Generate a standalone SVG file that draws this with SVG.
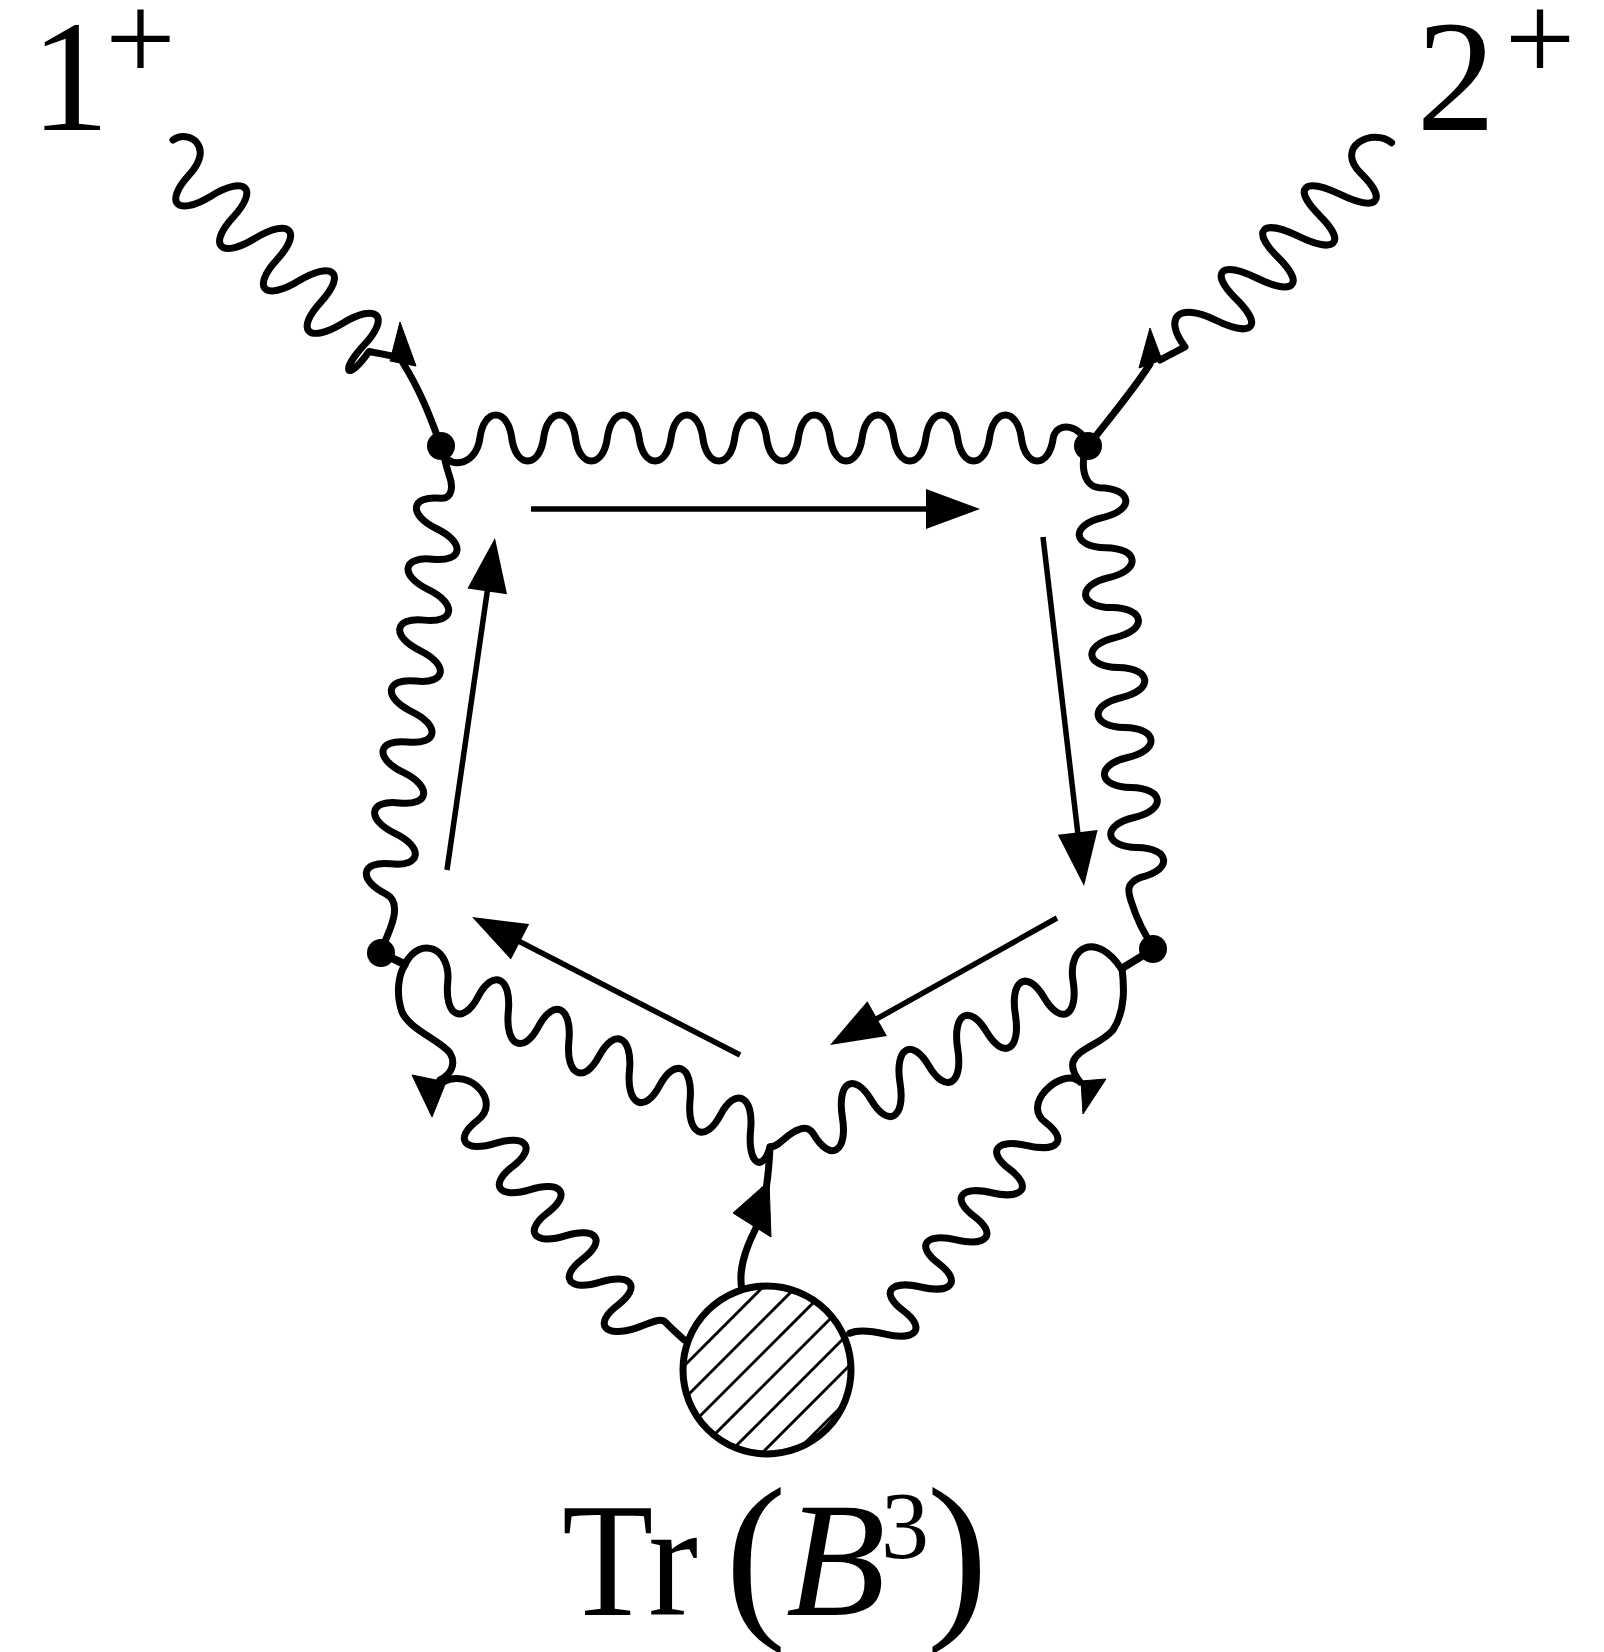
<svg xmlns="http://www.w3.org/2000/svg" width="1604" height="1652" viewBox="0 0 1604 1652">
<defs>
<style>
.g{fill:none;stroke:#000;stroke-width:7;stroke-linecap:round;stroke-linejoin:round}
.a{fill:none;stroke:#000;stroke-width:5.5;marker-end:url(#ah)}
.h{fill:#000;stroke:#000;stroke-width:1;stroke-linejoin:round}
.dot{fill:#000}
.hatch{stroke:#000;stroke-width:3}
text{font-family:"Liberation Serif","Times New Roman",serif;fill:#000}
</style>
<marker id="ah" markerUnits="userSpaceOnUse" viewBox="-40 -25 70 50" markerWidth="70" markerHeight="50" refX="0" refY="0" orient="auto" overflow="visible">
<path d="M20,0 L-34,-20 L-34,20 Z" fill="#000"/>
</marker>
<clipPath id="bc"><circle cx="767" cy="1370" r="84"/></clipPath>
</defs>
<rect width="1604" height="1652" fill="#fff"/>
<g id="connectors">
<path id="g1" class="g" transform="translate(163.6,149.7) rotate(44.1)" d="M0,-13.5 C3,-32 34.9,-38.7 35.9,0 c1,38.7 20.5,38.7 30.5,0 c10,-38.7 29.5,-38.7 30.5,0 c1,38.7 20.5,38.7 30.5,0 c10,-38.7 29.5,-38.7 30.5,0 c1,38.7 20.5,38.7 30.5,0 c10,-38.7 29.5,-38.7 30.5,0 c1,38.7 20.5,38.7 30.5,0 c10,-38.7 29.5,-38.7 30.5,0 c1,38.7 14,38.7 8.1,2 L311.7,-13.6"/>
<path id="g2" class="g" transform="translate(1391.6,142.7) rotate(134.76)" d="M0,0 C2,24 43.4,38.7 43.4,0 c0,-38.7 16.5,-38.7 29.5,0 c13,38.7 29.5,38.7 29.5,0 c0,-38.7 16.5,-38.7 29.5,0 c13,38.7 29.5,38.7 29.5,0 c0,-38.7 16.5,-38.7 29.5,0 c13,38.7 29.5,38.7 29.5,0 c0,-38.7 16.5,-38.7 29.5,0 c13,38.7 35,40 40.6,3 L317.3,11.4"/>
<path id="top" class="g" d="M441,446 C443,470 475.9,468.7 479.9,438 c4,-30.7 27.85,-30.7 31.85,0 s27.85,30.7 31.85,0 s27.85,-30.7 31.85,0 s27.85,30.7 31.85,0 s27.85,-30.7 31.85,0 s27.85,30.7 31.85,0 s27.85,-30.7 31.85,0 s27.85,30.7 31.85,0 s27.85,-30.7 31.85,0 s27.85,30.7 31.85,0 s27.85,-30.7 31.85,0 s27.85,30.7 31.85,0 s27.85,-30.7 31.85,0 s27.85,30.7 31.85,0 s27.85,-30.7 31.85,0 s27.85,30.7 31.85,0 s27.85,-30.7 31.85,0 s27.85,30.7 31.85,0 C1057,420 1082,425 1088,446"/>
<path id="leftwall" class="g" transform="translate(379,950) rotate(-82.2)" d="M0,2 C20,8 49.5,18 56.2,0 c10,-30.7 29.75,-30.7 30.75,0 c1,30.7 20.75,30.7 30.75,0 c10,-30.7 29.75,-30.7 30.75,0 c1,30.7 20.75,30.7 30.75,0 c10,-30.7 29.75,-30.7 30.75,0 c1,30.7 20.75,30.7 30.75,0 c10,-30.7 29.75,-30.7 30.75,0 c1,30.7 20.75,30.7 30.75,0 c10,-30.7 29.75,-30.7 30.75,0 c1,30.7 20.75,30.7 30.75,0 c10,-30.7 29.75,-30.7 30.75,0 c1,30.7 20.75,30.7 30.75,0 c10,-30.7 29.75,-30.7 30.75,0 C457,12 470,10 478,6 C490,0 500,-3 508,-7"/>
<path id="rightwall" class="g" transform="translate(1095,446) rotate(84)" d="M-0.7,7 C10,16 39,18 41.9,0 c4,-33.3 26.15,-33.3 30.15,0 s26.15,33.3 30.15,0 s26.15,-33.3 30.15,0 s26.15,33.3 30.15,0 s26.15,-33.3 30.15,0 s26.15,33.3 30.15,0 s26.15,-33.3 30.15,0 s26.15,33.3 30.15,0 s26.15,-33.3 30.15,0 s26.15,33.3 30.15,0 s26.15,-33.3 30.15,0 s26.15,33.3 30.15,0 s26.15,-33.3 30.15,0 C438,14 445,14 455,12 C475,8 495,0 506.5,-7"/>
<path id="lowerleft" class="g" transform="translate(408,962.7) rotate(26)" d="M-28.5,3 L-2,2 C-1,-30 32.2,-32.4 44.2,0 c12,32.4 32.7,32.4 33.7,0 c1,-32.4 21.7,-32.4 33.7,0 c12,32.4 32.7,32.4 33.7,0 c1,-32.4 21.7,-32.4 33.7,0 c12,32.4 32.7,32.4 33.7,0 c1,-32.4 21.7,-32.4 33.7,0 c12,32.4 32.7,32.4 33.7,0 c1,-32.4 21.7,-32.4 33.7,0 c12,32.4 32.7,32.4 33.7,0 c1,-32.4 21.7,-32.4 33.7,0 c12,32.4 30,34 25,6.9"/>
<path id="lowerright" class="g" transform="translate(1145,938.1) rotate(149.4)" d="M0,-14 L36,-14.5 C38,30 70.6,33.3 83.6,0 c13,-33.3 33.5,-33.3 33.5,0 c0,33.3 20.5,33.3 33.5,0 c13,-33.3 33.5,-33.3 33.5,0 c0,33.3 20.5,33.3 33.5,0 c13,-33.3 33.5,-33.3 33.5,0 c0,33.3 20.5,33.3 33.5,0 c13,-33.3 33.5,-33.3 33.5,0 c0,33.3 20.5,33.3 33.5,0 c13,-33.3 33.5,-33.3 33.5,0 C385.1,10 392,12 402,12 C414,12 421,7 429,11"/>
<path id="lb" class="g" transform="translate(446.7,1079.2) rotate(52.9)" d="M0,4.6 C4,-25 51.4,-30.7 51.4,0 c0,30.7 18,30.7 29,0 c11,-30.7 29,-30.7 29,0 c0,30.7 18,30.7 29,0 c11,-30.7 29,-30.7 29,0 c0,30.7 18,30.7 29,0 c11,-30.7 29,-30.7 29,0 c0,30.7 18,30.7 29,0 c11,-30.7 29,-30.7 29,0 c0,30.7 18,30.7 29,0 C317.4,-14 318,-27 326,-28 C336,-29 344,-31 351,-32"/>
<path id="rb" class="g" transform="translate(1076.8,1079.8) rotate(126.97)" d="M0,0 C3,20 52.85,29.3 52.85,0 c0,-29.3 16.5,-29.3 29.5,0 c13,29.3 29.5,29.3 29.5,0 c0,-29.3 16.5,-29.3 29.5,0 c13,29.3 29.5,29.3 29.5,0 c0,-29.3 16.5,-29.3 29.5,0 c13,29.3 29.5,29.3 29.5,0 c0,-29.3 16.5,-29.3 29.5,0 c13,29.3 29.5,29.3 29.5,0 c0,-29.3 16.5,-29.3 29.5,0 C323.85,12.4 330,24 339,29"/>
<path class="g" d="M441,446 C433,425 423,395 403,363"/>
<path class="g" d="M1088,446 C1108,420 1132,392 1150,364"/>
<path class="g" d="M381,953 L405,965 C398,975 396,995 402,1012 C410,1030 440,1040 450,1053 C456,1063 452,1074 440,1080"/>
<path class="g" d="M1153,949 L1122,968 C1124,985 1126,1010 1113,1030 C1100,1045 1078,1048 1073,1062 C1071,1070 1076,1077 1080,1082"/>
<path class="g" d="M742,1290 C738,1270 745,1250 755,1230 C762,1215 768,1190 770,1147"/>
<path class="h" d="M400,322 L390,361 L416,366 Z"/>
<path class="h" d="M1150,328 L1139,368 L1162,360 Z"/>
<path class="h" d="M432,1117 L412,1075 L446,1082 Z"/>
<path class="h" d="M1083,1114 L1081,1081 L1106,1079 Z"/>
<path class="h" d="M769,1181 L733,1213 L771,1237 Z"/>
<path class="a" d="M531,509 L960,509"/>
<path class="a" d="M447,870 L492.1,557.8"/>
<path class="a" d="M1043,537 L1081.7,866.1"/>
<path class="a" d="M1057,918 L847.5,1035.2"/>
<path class="a" d="M740,1055 L489.8,926.2"/>
</g>
<g id="blob">
<circle cx="767" cy="1370" r="84" fill="#fff"/>
<g clip-path="url(#bc)" class="hatch">
<line x1="660" y1="1390" x2="880" y2="1170"/>
<line x1="660" y1="1423" x2="880" y2="1203"/>
<line x1="660" y1="1456" x2="880" y2="1236"/>
<line x1="660" y1="1489" x2="880" y2="1269"/>
<line x1="660" y1="1522" x2="880" y2="1302"/>
<line x1="660" y1="1555" x2="880" y2="1335"/>
<line x1="660" y1="1588" x2="880" y2="1368"/>
</g>
<circle cx="767" cy="1370" r="84" fill="none" stroke="#000" stroke-width="7"/>
</g>
<g id="v1"><circle class="dot" cx="441" cy="446" r="14"/></g>
<g id="v2"><circle class="dot" cx="1088" cy="446" r="14"/></g>
<g id="v3"><circle class="dot" cx="1153" cy="949" r="14"/></g>
<g id="v4"><circle class="dot" cx="381" cy="953" r="14"/></g>
<g id="label1">
<text x="70" y="130" font-size="158" text-anchor="middle">1</text>
<text x="140.5" y="79.5" font-size="125" text-anchor="middle">+</text>
</g>
<g id="label2">
<text x="1456" y="130" font-size="158" text-anchor="middle">2</text>
<text x="1540" y="79.5" font-size="125" text-anchor="middle">+</text>
</g>
<g id="label3">
<text x="562" y="1615" font-size="163" textLength="136" lengthAdjust="spacingAndGlyphs">Tr</text>
<text x="725" y="1615" font-size="185">(</text>
<text x="786" y="1615" font-size="163" font-style="italic">B</text>
<text x="881" y="1558" font-size="96">3</text>
<text x="926.5" y="1615" font-size="185">)</text>
</g>
</svg>
